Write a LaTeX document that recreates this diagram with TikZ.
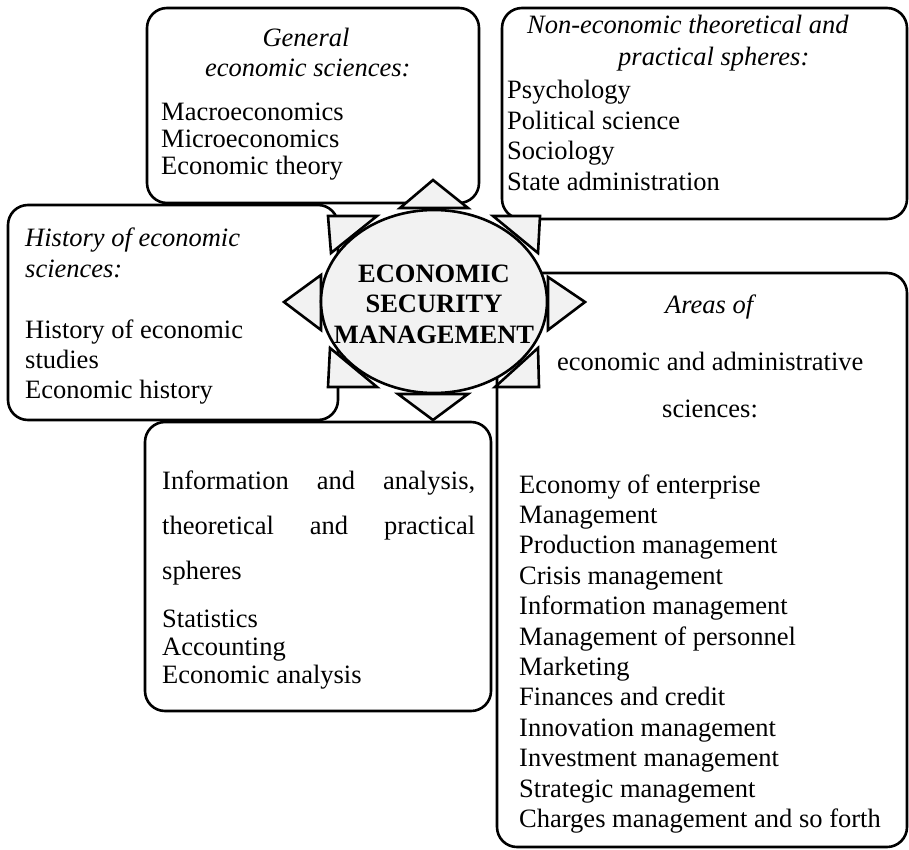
\documentclass[tikz,border=0pt]{standalone}
\usepackage{fontspec}
\setmainfont{Liberation Serif}
\usetikzlibrary{shapes.geometric,fit}
\definecolor{lightfill}{HTML}{F2F2F2}
\tikzset{
  box/.style={draw, line width=2.6pt, rounded corners=20pt, fill=white, inner sep=0pt},
  tri/.style={draw, line width=2.6pt, fill=lightfill, line join=miter},
  txt/.style={font=\fontsize{26.5}{30.4}\selectfont, inner sep=0pt, anchor=base west},
  itx/.style={txt, font=\fontsize{26.5}{30.4}\selectfont\itshape},
  ctx/.style={inner sep=0pt, anchor=base, font=\fontsize{26.5}{30.4}\selectfont\bfseries},
}
\begin{document}
\begin{tikzpicture}[x=1pt,y=-1pt]
\useasboundingbox (0,0) rectangle (909,850);
% boxes
\node[box, fit={(147,8) (479,203)}] (b1) {};
\node[box, fit={(502,8) (907,219)}] (b2) {};
\node[box, fit={(8,205) (338,420)}] (b3) {};
\node[box, fit={(145,422) (491,711)}] (b4) {};
\node[box, fit={(497,273) (907,847)}] (b5) {};
% box 1 text
\node[itx, anchor=base] (h1a) at (306,47) {General};
\node[itx] (h1b) at (205,77) {economic sciences:};
\foreach \t [count=\i from 0] in {Macroeconomics, Microeconomics, Economic theory}
  \node[txt] (b1l\i) at (161,{121+26.7*\i}) {\t};
% box 2 text
\node[itx] (h2a) at (527,34) {Non-economic theoretical and};
\node[itx] (h2b) at (618,66) {practical spheres:};
\foreach \t [count=\i from 0] in {Psychology, Political science, Sociology, State administration}
  \node[txt] (b2l\i) at (507,{99+30.4*\i}) {\t};
% box 3 text
\node[itx] (h3a) at (25,246) {History of economic};
\node[itx] (h3b) at (25,277) {sciences:};
\foreach \t [count=\i from 0] in {History of economic, studies, Economic history}
  \node[txt] (b3l\i) at (25,{338+30*\i}) {\t};
% box 4 text
\node[txt] (h4a) at (162,489) {\makebox[313pt][s]{Information and analysis,}};
\node[txt] (h4b) at (162,534) {\makebox[313pt][s]{theoretical and practical}};
\node[txt] (h4c) at (162,579) {spheres};
\foreach \t [count=\i from 0] in {Statistics, Accounting, Economic analysis}
  \node[txt] (b4l\i) at (162,{627+28*\i}) {\t};
% box 5 text
\node[itx] (h5a) at (665,313) {Areas of};
\node[txt] (h5b) at (557,370) {economic and administrative};
\node[txt] (h5c) at (662,417) {sciences:};
\foreach \t [count=\i from 0] in {Economy of enterprise, Management, Production management,
  Crisis management, Information management, Management of personnel, Marketing,
  Finances and credit, Innovation management, Investment management,
  Strategic management, Charges management and so forth}
  \node[txt] (b5l\i) at (519,{493+30.4*\i}) {\t};
% arrows (triangles) around the centre
\draw[tri] (400,208) -- (433,180) -- (468,208) -- cycle;
\draw[tri] (398,394) -- (433,420) -- (468,394) -- cycle;
\draw[tri] (321,275) -- (284,302) -- (321,330) -- cycle;
\draw[tri] (548,277) -- (585,302) -- (548,330) -- cycle;
\draw[tri] (377,216) -- (328,216) -- (331,253) -- cycle;
\draw[tri] (493,216) -- (540,216) -- (538,253) -- cycle;
\draw[tri] (330,348) -- (328,387) -- (377,387) -- cycle;
\draw[tri] (538,348) -- (539,387) -- (495,387) -- cycle;
% centre
\node[draw, ellipse, line width=2.6pt, fill=lightfill, minimum width=226pt,
      minimum height=183pt, inner sep=0pt] (c) at (434,301.5) {};
\node[ctx] (c1) at (434,282) {ECONOMIC};
\node[ctx] (c2) at (434,312.5) {SECURITY};
\node[ctx] (c3) at (434,343) {MANAGEMENT};
\end{tikzpicture}
\end{document}
